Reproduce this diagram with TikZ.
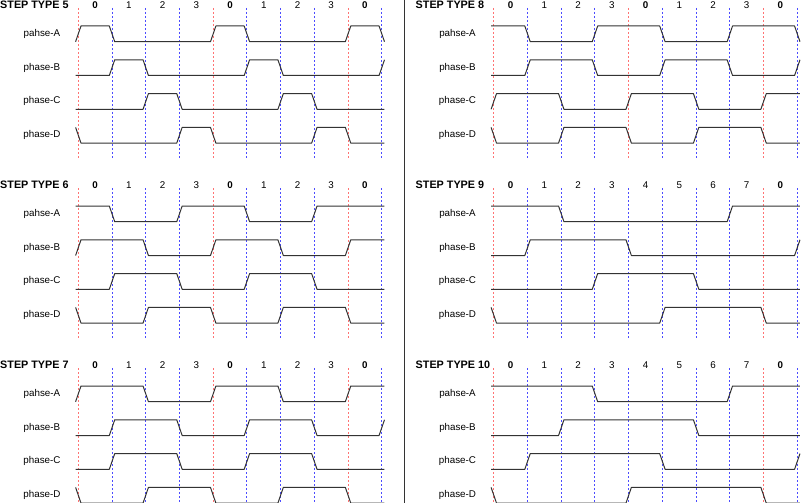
\documentclass[tikz,border=0pt]{standalone}
\usepackage{fontspec}
\setmainfont{Liberation Sans}
\tikzset{
  gridr/.style={red!55,line width=1pt,dash pattern=on 2pt off 2pt},
  gridb/.style={blue!70,line width=1pt,dash pattern=on 2pt off 2pt},
  wave/.style={black!80,line width=1pt,line join=round},
  signame/.style={font=\fontsize{9.8}{11}\selectfont,inner sep=0pt},
  cellnum/.style={font=\fontsize{9.8}{11}\selectfont,inner sep=0pt},
  paneltitle/.style={font=\fontsize{10.8}{12}\selectfont\bfseries,anchor=west,inner sep=0pt},
}
% #1 x shift, #2 y shift, #3 step type, #4 cell numbers, #5 grid line styles,
% #6-#9 levels of A..D (before, cells 0..8, after)
\newcommand{\steppanel}[9]{%
\begin{scope}[shift={(#1,#2)}]
  \node[paneltitle] (title#3) at (0,5) {STEP TYPE #3};
  \foreach \c [count=\i from 0] in {#4}
    \node[cellnum] (num#3-\i) at ({78.3+(\i+.5)*33.72},5) {\c};
  \foreach \col [count=\g from 0] in {#5}
    \draw[\col] ({78.3+\g*33.72},8) -- ({78.3+\g*33.72},158);
  \foreach \nm [count=\k from 0] in {pahse-A,phase-B,phase-C,phase-D}
    \node[signame] (sig#3-\k) at (42,{33.85+33.8*\k}) {\nm};
  \foreach \sg [count=\k from 0] in {{#6},{#7},{#8},{#9}}{
    \pgfmathsetmacro\yh{26+33.8*\k}
    \edef\arr{{\sg}}
    \draw[wave] ({78.3-2.7},{\yh+(1-\arr[0])*15.7})
      \foreach \i in {0,...,9}{
        -- ({78.3+\i*33.72-2.7},{\yh+(1-\arr[\i])*15.7})
        -- ({78.3+\i*33.72+2.7},{\yh+(1-\arr[\i+1])*15.7})};
  }
\end{scope}}

\begin{document}
\begin{tikzpicture}[x=1pt,y=-1pt]
\useasboundingbox (0,0) rectangle (801,503);
\draw[black!80,line width=1pt] (404.3,0) -- (404.3,503);

\steppanel{0}{0}{5}{\textbf{0},1,2,3,\textbf{0},1,2,3,\textbf{0}}
  {gridr,gridb,gridb,gridb,gridr,gridb,gridb,gridb,gridr,gridb}
  {0,1,0,0,0,1,0,0,0,1,0}{0,0,1,0,0,0,1,0,0,0,1}
  {0,0,0,1,0,0,0,1,0,0,0}{1,0,0,0,1,0,0,0,1,0,0}
\steppanel{0}{180}{6}{\textbf{0},1,2,3,\textbf{0},1,2,3,\textbf{0}}
  {gridr,gridb,gridb,gridb,gridr,gridb,gridb,gridb,gridr,gridb}
  {1,1,0,0,1,1,0,0,1,1,1}{0,1,1,0,0,1,1,0,0,1,1}
  {0,0,1,1,0,0,1,1,0,0,0}{1,0,0,1,1,0,0,1,1,0,0}
\steppanel{0}{360}{7}{\textbf{0},1,2,3,\textbf{0},1,2,3,\textbf{0}}
  {gridr,gridb,gridb,gridb,gridr,gridb,gridb,gridb,gridr,gridb}
  {0,1,1,0,0,1,1,0,0,1,1}{0,0,1,1,0,0,1,1,0,0,1}
  {0,0,1,1,0,0,1,1,0,0,0}{1,0,0,1,1,0,0,1,1,0,0}

\steppanel{415.5}{0}{8}{\textbf{0},1,2,3,\textbf{0},1,2,3,\textbf{0}}
  {gridr,gridb,gridb,gridb,gridr,gridb,gridb,gridb,gridr,gridb}
  {1,1,0,0,1,1,0,0,1,1,0}{0,0,1,1,0,0,1,1,0,0,1}
  {0,1,1,0,0,1,1,0,0,1,1}{1,0,0,1,1,0,0,1,1,0,0}
\steppanel{415.5}{180}{9}{\textbf{0},1,2,3,4,5,6,7,\textbf{0}}
  {gridr,gridb,gridb,gridb,gridb,gridb,gridb,gridb,gridr,gridb}
  {1,1,1,0,0,0,0,0,1,1,1}{0,0,1,1,1,0,0,0,0,0,1}
  {0,0,0,0,1,1,1,0,0,0,0}{1,0,0,0,0,0,1,1,1,0,0}
\steppanel{415.5}{360}{10}{\textbf{0},1,2,3,4,5,6,7,\textbf{0}}
  {gridr,gridb,gridb,gridb,gridb,gridb,gridb,gridb,gridr,gridb}
  {1,1,1,1,0,0,0,0,1,1,1}{0,0,0,1,1,1,1,0,0,0,0}
  {0,0,1,1,1,1,0,0,0,0,1}{1,0,0,0,0,1,1,1,1,0,0}
\end{tikzpicture}
\end{document}
